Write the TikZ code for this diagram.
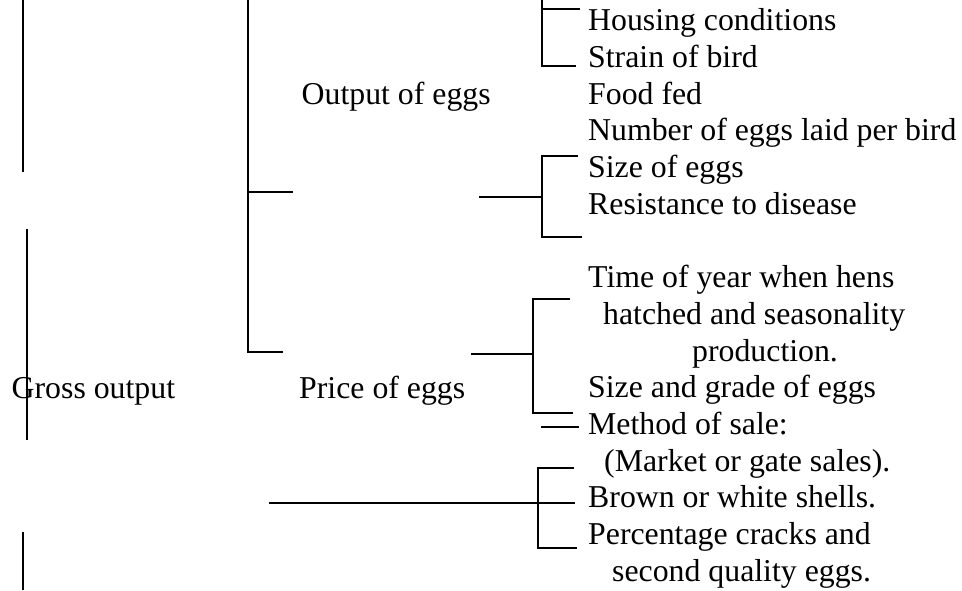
\documentclass[tikz,border=0pt]{standalone}
\usepackage{fontspec}
\setmainfont{Liberation Serif}
\begin{document}
\begin{tikzpicture}[x=1pt,y=-1pt,
  lbl/.style={anchor=base west,inner sep=0pt,font=\fontsize{31.8}{36.7}\selectfont},
  ln/.style={line width=1.7pt,line cap=butt}]
\useasboundingbox (0,0) rectangle (962,590);
% labels
\node[lbl] (gross) at (11.5,398.3) {Gross output};
\node[lbl] (out) at (301.5,104.3) {Output of eggs};
\node[lbl] (price) at (299,398.3) {Price of eggs};
\node[lbl] (t1) at (588,30.7) {Housing conditions};
\node[lbl] (t2) at (588,67.4) {Strain of bird};
\node[lbl] (t3) at (588,104.1) {Food fed};
\node[lbl] (t4) at (588,140.8) {Number of eggs laid per bird};
\node[lbl] (t5) at (588,177.5) {Size of eggs};
\node[lbl] (t6) at (588,214.2) {Resistance to disease};
\node[lbl] (t7) at (588,287.6) {Time of year when hens};
\node[lbl] (t8) at (603,324.3) {hatched and seasonality};
\node[lbl] (t9) at (692,361) {production.};
\node[lbl] (t10) at (588,397.7) {Size and grade of eggs};
\node[lbl] (t11) at (588,434.4) {Method of sale:};
\node[lbl] (t12) at (604,471.1) {(Market or gate sales).};
\node[lbl] (t13) at (588,507.8) {Brown or white shells.};
\node[lbl] (t14) at (588,544.5) {Percentage cracks and};
\node[lbl] (t15) at (612,581.2) {second quality eggs.};
% left verticals
\draw[ln] (23,0) -- (23,172);
\draw[ln] (27,229) -- (27,440);
\draw[ln] (23,532) -- (23,590);
% main bracket
\draw[ln] (248,0) -- (248,352) -- (283,352);
\draw[ln] (248,192) -- (293,192);
% top bracket
\draw[ln] (542,0) -- (542,66) -- (576,66);
\draw[ln] (542,9) -- (580,9);
% middle bracket
\draw[ln] (479,197) -- (542,197);
\draw[ln] (578,156) -- (542,156) -- (542,237) -- (582,237);
% price bracket
\draw[ln] (471,354) -- (533,354);
\draw[ln] (570,299) -- (533,299) -- (533,413) -- (573,413);
% method of sale dash
\draw[ln] (541,427) -- (579,427);
% bottom bracket
\draw[ln] (269,503) -- (575,503);
\draw[ln] (574,468) -- (538,468) -- (538,548) -- (577,548);
\end{tikzpicture}
\end{document}
